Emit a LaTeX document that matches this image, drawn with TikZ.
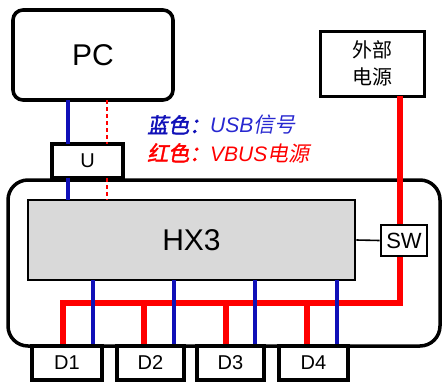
\documentclass[tikz,border=0pt]{standalone}
\usepackage{fontspec}
\setmainfont{Liberation Sans}
\newfontfamily\cjk{Noto Sans CJK SC}
\newfontfamily\cjkit{Noto Sans CJK SC}[FakeSlant=0.2]
\newfontfamily\cjkbi{Noto Sans CJK SC}[FakeSlant=0.2,FakeBold=2]
\definecolor{usbblue}{HTML}{1010B8}
\definecolor{legblue}{HTML}{2828D0}
\definecolor{pwrred}{HTML}{FF0000}
\definecolor{hxgray}{HTML}{D9D9D9}
\begin{document}
\begin{tikzpicture}[x=1pt,y=-1pt,
  box/.style={draw=black,line width=3.2pt,fill=white,inner sep=0pt},
  usb/.style={draw=usbblue,line width=3.2pt},
  vbus/.style={draw=pwrred,line width=5.5pt},
  vbusd/.style={draw=pwrred,line width=2.5pt,dash pattern=on 4pt off 3pt},
  lbl/.style={font=\fontsize{20}{24}\selectfont}]
\useasboundingbox (0,0) rectangle (442,381);
% big rounded box
\draw[line width=3.5pt,rounded corners=20pt] (8,180) rectangle (440,346);
% HX3
\node[draw=black,line width=2.6pt,fill=hxgray,minimum width=327pt,minimum height=80pt,font=\fontsize{30}{34}\selectfont] (hx) at (191.5,240) {HX3};
% PC
\node[box,line width=3.6pt,rounded corners=10pt,minimum width=160pt,minimum height=90pt,font=\fontsize{30}{34}\selectfont] (pc) at (93,55) {PC};
% U
\node[box,minimum width=71pt,minimum height=34pt,lbl] (u) at (87.5,161) {U};
% external power
\node[box,line width=3pt,minimum width=104pt,minimum height=65pt,align=center,font=\cjk\fontsize{20}{27}\selectfont] (ext) at (372,63.5) {外部\\电源};
% coordinates
\coordinate (pcb) at (68,100);
\coordinate (pcr) at (107,100);
\coordinate (ub) at (68,178);
\coordinate (ur) at (107,178);
\coordinate (hb) at (68,200);
\coordinate (hr) at (107,200);
% USB/VBUS from PC
\draw[usb] (pcb) -- (68,144);
\draw[vbusd] (pcr) -- (107,144);
\draw[usb] (ub) -- (hb);
\draw[vbusd] (ur) -- (hr);
% red power line
\coordinate (extb) at (400,96);
\coordinate (corner) at (400,303);
\coordinate (leftend) at (63,303);
\draw[vbus,line cap=butt,line join=miter] (extb) -- (corner) -- (leftend) -- (63,346);
\foreach \x in {144,226,307} \draw[vbus] (\x,303) -- (\x,346);
\foreach \x in {93,174,255,337} \draw[usb] (\x,280) -- (\x,346);
% SW
\node[draw=black,line width=2.6pt,fill=white,minimum width=46pt,minimum height=31pt,inner sep=0pt,font=\fontsize{22}{26}\selectfont] (sw) at (404,240.5) {SW};
\draw[line width=1.6pt] (hx.east) -- (sw.west);
% D boxes
\node[box,minimum width=70pt,minimum height=34pt,lbl] (d1) at (67,363) {D1};
\node[box,minimum width=67pt,minimum height=34pt,lbl] (d2) at (150.5,363) {D2};
\node[box,minimum width=67pt,minimum height=34pt,lbl] (d3) at (230.5,363) {D3};
\node[box,minimum width=69pt,minimum height=34pt,lbl] (d4) at (313.5,363) {D4};
% legend
\node[anchor=west,inner sep=0pt,font=\fontsize{21}{25}\selectfont] (leg1) at (147,125) {\textcolor{usbblue}{\cjkbi 蓝色：}\textcolor{legblue}{\itshape USB\cjkit 信号}};
\node[anchor=west,inner sep=0pt,font=\fontsize{21}{25}\selectfont] (leg2) at (147,153) {\textcolor{pwrred}{\cjkbi 红色：}\textcolor{pwrred}{\itshape VBUS\cjkit 电源}};
\end{tikzpicture}
\end{document}
